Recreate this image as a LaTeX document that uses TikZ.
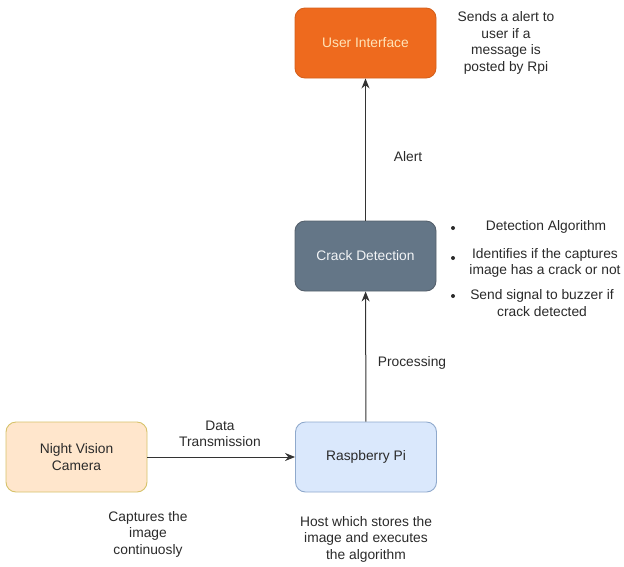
\documentclass[tikz,border=0pt]{standalone}
\usepackage{fontspec}
\setmainfont{Liberation Sans}
\usetikzlibrary{arrows.meta}
\definecolor{uifill}{HTML}{EE6A1E}
\definecolor{uidraw}{HTML}{D4601C}
\definecolor{uitext}{HTML}{FFE3B8}
\definecolor{cdfill}{HTML}{647687}
\definecolor{cddraw}{HTML}{55606C}
\definecolor{cdtext}{HTML}{F2F4F6}
\definecolor{nvfill}{HTML}{FFE6CC}
\definecolor{nvdraw}{HTML}{D6C26A}
\definecolor{rpfill}{HTML}{DAE8FC}
\definecolor{rpdraw}{HTML}{8FA9CC}
\definecolor{txt}{HTML}{2A2A2A}
\definecolor{lnk}{HTML}{333333}
\tikzset{
  box/.style={rectangle, rounded corners=10pt, minimum width=141pt, minimum height=70pt, line width=0.9pt, align=center, font=\fontsize{13.8}{16.5}\selectfont, inner sep=0pt},
  note/.style={align=center, text=txt, font=\fontsize{13.8}{16.5}\selectfont, inner sep=0pt},
  bul/.style={circle, fill=txt, inner sep=0pt, minimum size=4pt},
  link/.style={draw=lnk, line width=1pt, -{Stealth[length=10pt,width=8pt]}},
}
\begin{document}
\begin{tikzpicture}[x=1pt,y=-1pt]
\useasboundingbox (0,0) rectangle (624,566);
\node[box, fill=uifill, draw=uidraw, text=uitext] (ui) at (365.5,43) {User Interface};
\node[box, fill=cdfill, draw=cddraw, text=cdtext] (cd) at (365.5,256) {Crack Detection};
\node[box, fill=nvfill, draw=nvdraw, text=txt] (nv) at (76.5,457) {Night Vision\\Camera};
\node[box, fill=rpfill, draw=rpdraw, text=txt] (rp) at (366,457) {Raspberry Pi};

\draw[link] (nv) -- (rp);
\draw[link] (rp) -- (cd);
\draw[link] (cd) -- (ui);

\node[note] (ldt) at (220,434) {Data\\Transmission};
\node[note] (lal) at (408,157) {Alert};
\node[note] (lpr) at (412,363) {Processing};

\node[note] (nui) at (506,43) {Sends a alert to\\user if a\\message is\\posted by Rpi};
\node[note] (nnv) at (148,534) {Captures the\\image\\continuosly};
\node[note] (nrp) at (366,539) {Host which stores the\\image and executes\\the algorithm};

\node[bul] (b1) at (453,228) {};
\node[bul] (b2) at (453,258) {};
\node[bul] (b3) at (453,296) {};
\node[note] (t1) at (546,227) {Detection Algorithm};
\node[note] (t2) at (545,263) {Identifies if the captures\\image has a crack or not};
\node[note] (t3) at (542,303) {Send signal to buzzer if\\crack detected};
\end{tikzpicture}
\end{document}
